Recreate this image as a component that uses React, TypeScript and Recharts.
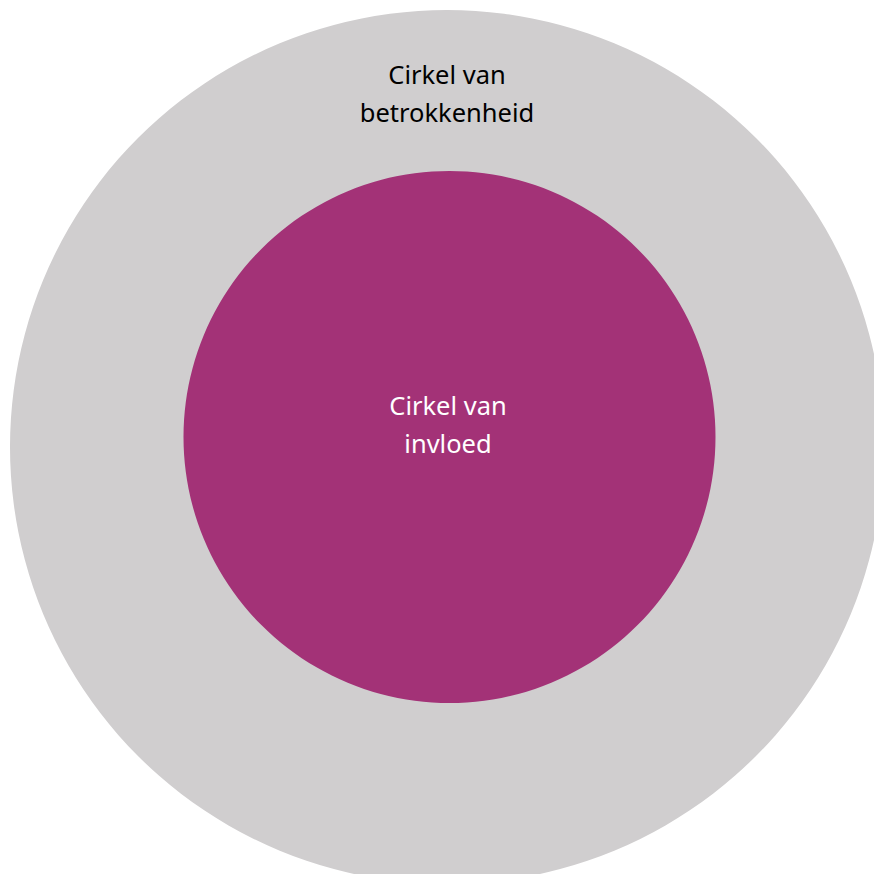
import React from "react";
import { Cell, Pie, PieChart } from "recharts";

// twee cirkels: betrokkenheid (buiten) en invloed (binnen)
const outerData = [{ name: "Cirkel van betrokkenheid", value: 1 }];
const innerData = [{ name: "Cirkel van invloed", value: 1 }];
const outerLabel = ["Cirkel van", "betrokkenheid"];
const innerLabel = ["Cirkel van", "invloed"];

const GRAY = "#d0cecf";
const PURPLE = "#a33277";
const FONT = "'Noto Sans', sans-serif";

const labelStyle = (top: number, left: number, color: string): React.CSSProperties => ({
  position: "absolute",
  top,
  left: left - 150,
  width: 300,
  textAlign: "center",
  fontFamily: FONT,
  fontSize: 25.5,
  lineHeight: "38px",
  color,
  pointerEvents: "none",
});

const App = () => {
  return (
    <div style={{ position: "fixed", left: 0, top: 0, width: 874, height: 874, background: "#fff", overflow: "hidden" }}>
      <PieChart width={874} height={874} margin={{ top: 0, right: 0, left: 0, bottom: 0 }}>
        <Pie
          data={outerData}
          dataKey="value"
          cx={447}
          cy={447}
          outerRadius={437}
          innerRadius={0}
          startAngle={90}
          endAngle={-270}
          stroke="none"
          isAnimationActive={false}
        >
          <Cell fill={GRAY} />
        </Pie>
        <Pie
          data={innerData}
          dataKey="value"
          cx={449.5}
          cy={437}
          outerRadius={266}
          innerRadius={0}
          startAngle={90}
          endAngle={-270}
          stroke="none"
          isAnimationActive={false}
        >
          <Cell fill={PURPLE} />
        </Pie>
      </PieChart>
      <div style={labelStyle(55, 447, "#000")}>
        {outerLabel.map((l) => (
          <div key={l}>{l}</div>
        ))}
      </div>
      <div style={labelStyle(386, 448, "#fff")}>
        {innerLabel.map((l) => (
          <div key={l}>{l}</div>
        ))}
      </div>
    </div>
  );
};

export default App;
